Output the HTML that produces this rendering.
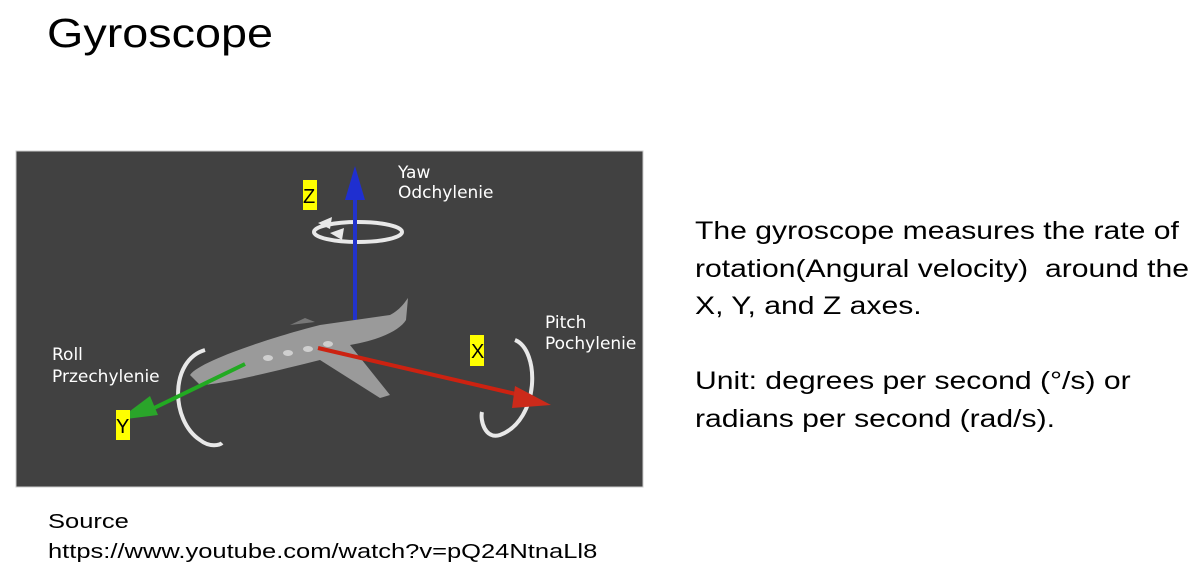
<!DOCTYPE html>
<html><head><meta charset="utf-8"><style>
body{margin:0;width:1204px;height:576px;background:#fff;font-family:"Liberation Sans",sans-serif;position:relative;overflow:hidden}
.t{position:absolute;color:#000;white-space:nowrap;transform-origin:0 0}
</style></head><body>
<div class="t" style="left:47px;top:10px;font-size:41px;transform:scaleX(1.14)">Gyroscope</div>
<svg style="position:absolute;left:0;top:0" width="1204" height="576">
<rect x="16" y="151" width="627" height="336" fill="#414141" stroke="#ccc" stroke-width="1"/>
<g fill="none" stroke="#e8e8e8" stroke-width="4">
<ellipse cx="358" cy="232" rx="44" ry="10"/>
<path d="M205 350 C170 360 170 420 200 440 C210 448 220 445 222 443"/>
<path d="M515 340 C540 350 540 420 500 435 C485 440 480 420 482 412"/>
</g>
<polygon points="318,223 332,217 330,229" fill="#e8e8e8"/>
<polygon points="330,233 344,228 342,240" fill="#e8e8e8"/>
<line x1="355" y1="195" x2="355" y2="320" stroke="#2233cc" stroke-width="4"/>
<path d="M355 166 L345 200 L365 200 Z" fill="#1f2fd0"/>
<path d="M190 375 C200 360 280 335 320 325 L390 315 C400 310 405 302 408 298 L406 320 C400 330 380 340 350 345 L390 395 L380 398 L320 360 C280 370 220 385 200 385 Z" fill="#9a9a9a"/>
<path d="M290 325 L305 318 L315 322 Z" fill="#777"/>
<g fill="#cfcfcf"><ellipse cx="268" cy="358" rx="5" ry="3"/><ellipse cx="288" cy="353" rx="5" ry="3"/><ellipse cx="308" cy="349" rx="5" ry="3"/><ellipse cx="328" cy="344" rx="5" ry="3"/></g>
<line x1="245" y1="364" x2="150" y2="410" stroke="#22aa22" stroke-width="4"/>
<path d="M118 420 L150 396 L158 415 Z" fill="#2aa52a"/>
<line x1="318" y1="348" x2="520" y2="395" stroke="#cc2211" stroke-width="4"/>
<path d="M551 405 L515 386 L512 408 Z" fill="#cc2a1a"/>
<g fill="#fff" font-size="17" font-family="DejaVu Sans,sans-serif">
<text x="398" y="178">Yaw</text><text x="398" y="198">Odchylenie</text>
<text x="545" y="328">Pitch</text><text x="545" y="349">Pochylenie</text>
<text x="52" y="360">Roll</text><text x="52" y="382">Przechylenie</text>
</g>
<g font-size="20" fill="#000">
<rect x="303" y="180" width="14" height="30" fill="#ffff00"/><text x="303" y="203">Z</text>
<rect x="470" y="335" width="14" height="31" fill="#ffff00"/><text x="471" y="358">X</text>
<rect x="116" y="410" width="14" height="30" fill="#ffff00"/><text x="116" y="433">Y</text>
</g>
</svg>
<div class="t" style="left:695px;top:213px;font-size:25px;line-height:37.5px;transform:scaleX(1.205)">The gyroscope measures the rate of<br>rotation(Angural velocity)&nbsp; around the<br>X, Y, and Z axes.<br><br>Unit: degrees per second (°/s) or<br>radians per second (rad/s).</div>
<div class="t" style="left:48px;top:507px;font-size:20px;line-height:30px;transform:scaleX(1.275)">Source<br>https://www.youtube.com/watch?v=pQ24NtnaLl8</div>
</body></html>
